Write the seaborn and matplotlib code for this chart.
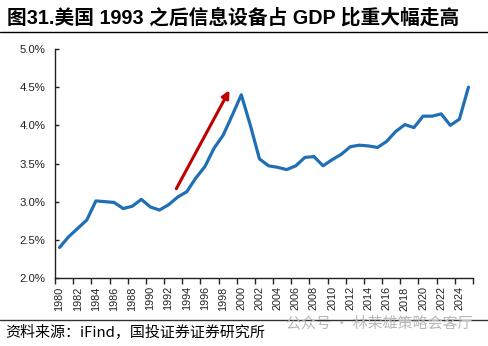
import numpy as np
import matplotlib
matplotlib.use("Agg")
import matplotlib.pyplot as plt
from matplotlib.lines import Line2D
from matplotlib.ticker import FixedLocator, FuncFormatter
import seaborn as sns

# ── data ────────────────────────────────────────────────────────
YEARS = list(range(1980, 2026))
SHARE = [2.40, 2.54, 2.65, 2.76, 3.01, 3.00, 2.99, 2.91, 2.94, 3.03,
         2.93, 2.89, 2.96, 3.06, 3.13, 3.31, 3.46, 3.70, 3.87, 4.13,
         4.40, 4.00, 3.56, 3.47, 3.45, 3.42, 3.47, 3.58, 3.59, 3.47,
         3.55, 3.62, 3.72, 3.74, 3.73, 3.71, 3.79, 3.92, 4.01, 3.97,
         4.12, 4.12, 4.15, 4.00, 4.08, 4.50]
Y_TICKS = [2.0, 2.5, 3.0, 3.5, 4.0, 4.5, 5.0]
ARROW_FROM = (1992.85, 3.17)
ARROW_TO   = (1998.7, 4.46)

TITLE  = "图31.美国 1993 之后信息设备占 GDP 比重大幅走高"
SOURCE = "资料来源：iFind，国投证券证券研究所"
WATERMARK = "公众号 · 林荣雄策略会客厅"

LINE_COLOR  = "#1F6FB4"
ARROW_COLOR = "#C00000"

sns.set_style("white")
plt.rcParams["font.family"] = ["Liberation Sans", "Noto Sans CJK SC", "DejaVu Sans"]

fig = plt.figure(figsize=(4.89, 3.46), dpi=100)
ax = fig.add_axes([55/489, 1-278/346, (473-55)/489, (278-49)/346])

sns.lineplot(x=YEARS, y=SHARE, ax=ax, color=LINE_COLOR, linewidth=2.3)

ax.annotate("", xy=ARROW_TO, xytext=ARROW_FROM,
            arrowprops=dict(arrowstyle="-|>", color=ARROW_COLOR,
                            lw=2.2, mutation_scale=11, shrinkA=0, shrinkB=0))

# axes
ax.set_xlim(YEARS[0]-0.5, YEARS[-1]+0.5)
ax.set_ylim(2.0, 5.0)
ax.set_yticks(Y_TICKS)
ax.yaxis.set_major_formatter(FuncFormatter(lambda v, p: f"{v:.1f}%"))
ax.tick_params(axis="y", direction="in", length=3, width=1, labelsize=8.2,
               colors="#222222", pad=7, left=True)

ax.set_xticks(YEARS[::2])
ax.set_xticklabels([str(y) for y in YEARS[::2]], rotation=90, fontsize=7.8)
ax.xaxis.set_minor_locator(FixedLocator(np.arange(YEARS[0]-0.5, YEARS[-1]+1, 2)))
ax.tick_params(axis="x", which="major", length=0, pad=6, colors="#222222")
ax.tick_params(axis="x", which="minor", direction="out", length=4,
               width=1, color="#222222", bottom=True)

ax.set_xlabel("")
ax.set_ylabel("")
for s in ["top", "right"]:
    ax.spines[s].set_visible(False)
for s in ["left", "bottom"]:
    ax.spines[s].set_color("#222222")
    ax.spines[s].set_linewidth(1)
ax.grid(False)

# title + rules
fig.text(7/489, 1-18/346, TITLE, fontsize=14.2, fontweight="bold",
         va="center", ha="left", color="black",
         family=["Liberation Sans", "Noto Sans CJK SC"])
fig.add_artist(Line2D([0, 1], [1-32/346]*2, transform=fig.transFigure,
                      color="black", lw=1))
fig.add_artist(Line2D([0, 1], [1-320/346]*2, transform=fig.transFigure,
                      color="#333333", lw=1))

fig.text(5/489, 1-333/346, SOURCE, fontsize=10.8, style="italic",
         va="center", ha="left", color="black",
         family=["Noto Sans CJK SC", "DejaVu Sans"])
fig.text(473/489, 1-323/346, WATERMARK, fontsize=10.8, va="center", ha="right",
         color="#B8B8B8", family=["Noto Sans CJK SC", "DejaVu Sans"])

fig.savefig("out.png", dpi=100)
